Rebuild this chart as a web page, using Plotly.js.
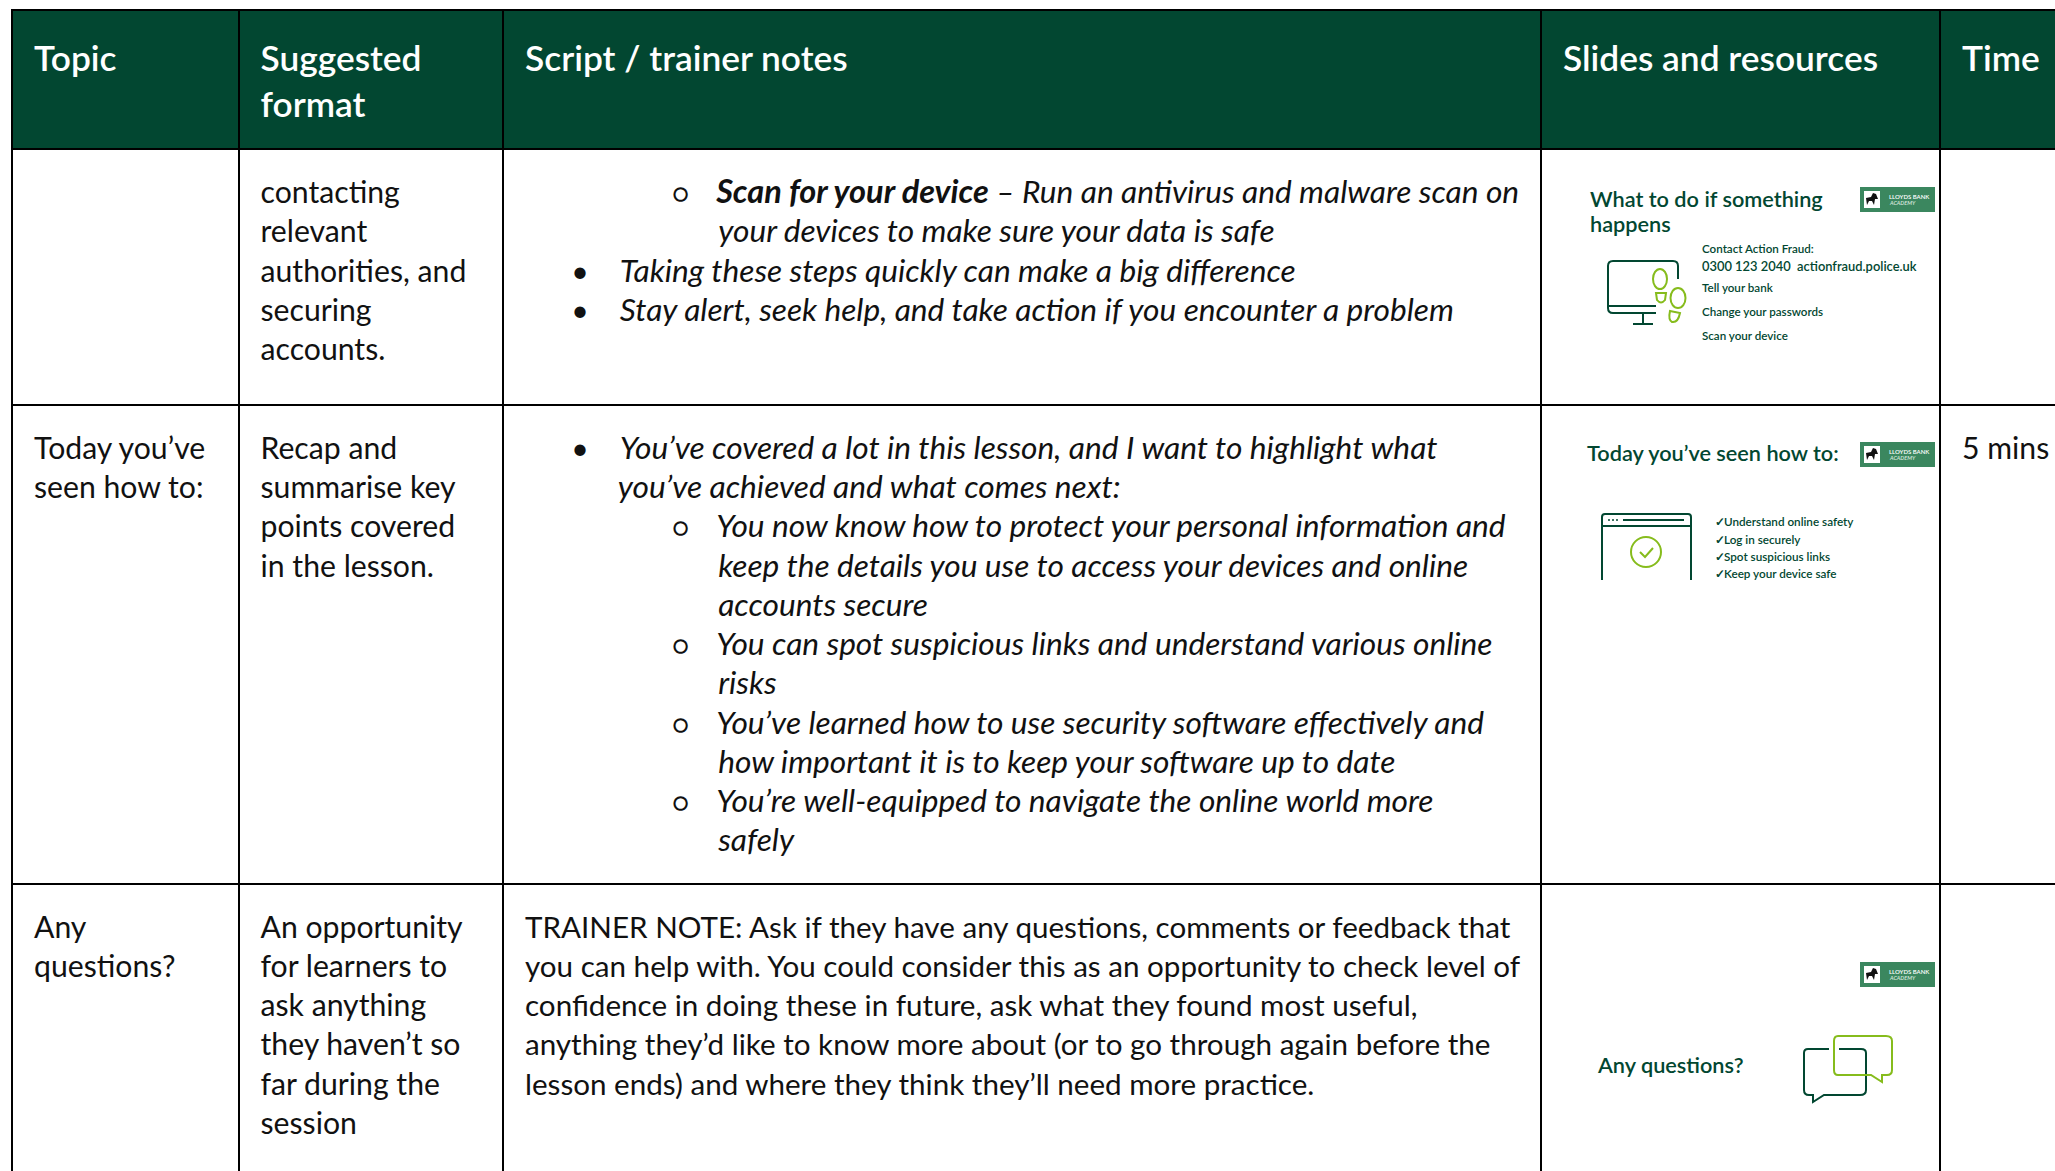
<!DOCTYPE html>
<html><head><meta charset="utf-8">
<script src="https://cdn.plot.ly/plotly-3.0.1.min.js"></script>
<style>
html,body{margin:0;padding:0;background:#fff;overflow:hidden;width:2055px;height:1171px}
#chart{width:2200px;height:1300px}
text.cell-text{transform:translate(14px,46px)}
</style></head><body><div id="chart"></div>
<script>
const NB='\u00A0';
const headers=['Topic<br>'+NB,'Suggested<br>format','Script / trainer notes<br>'+NB,'Slides and resources<br>'+NB,'Time<br>'+NB];
const topics=[NB+'<br>'+NB,'Today you’ve<br>seen how to:','Any<br>questions?'];
const formats=[
 'contacting<br>relevant<br>authorities, and<br>securing<br>accounts.',
 'Recap and<br>summarise key<br>points covered<br>in the lesson.',
 'An opportunity<br>for learners to<br>ask anything<br>they haven’t so<br>far during the<br>session'];
const notesRow1=[
 [2,'<b style="font-size:32.5px">Scan for your device</b> – Run an antivirus and malware scan on'],
 [3,'your devices to make sure your data is safe'],
 [1,'Taking these steps quickly can make a big difference'],
 [1,'Stay alert, seek help, and take action if you encounter a problem']];
const notesRow2=[
 [1,'You’ve covered a lot in this lesson, and I want to highlight what'],
 [4,'you’ve achieved and what comes next:'],
 [2,'You now know how to protect your personal information and'],
 [3,'keep the details you use to access your devices and online'],
 [3,'accounts secure'],
 [2,'You can spot suspicious links and understand various online'],
 [3,'risks'],
 [2,'You’ve learned how to use security software effectively and'],
 [3,'how important it is to keep your software up to date'],
 [2,'You’re well-equipped to navigate the online world more'],
 [3,'safely']];
const notesRow3=['TRAINER NOTE: Ask if they have any questions, comments or feedback that','you can help with. You could consider this as an opportunity to check level of','confidence in doing these in future, ask what they found most useful,','anything they’d like to know more about (or to go through again before the','lesson ends) and where they think they’ll need more practice.'];
const times=[NB+'<br>'+NB,'5 mins<br>'+NB,NB+'<br>'+NB];
const columnWidths=[226.5,264.5,1038,399,205];

const FONT='Lato,"Liberation Sans",sans-serif';
const GREEN='#024731', LIME='#86bc1c', LOGO='#3b875f', W=2200, H=1300;
const pad=n=>NB.repeat(n);
const ital=t=>'<span style="font-size:31.65px"><i>'+t+'</i></span>';
const fmtLine=([lvl,t])=>{
 if(lvl===1) return pad(6)+'•'+pad(4)+ital(t);
 if(lvl===2) return pad(19)+'<span style="font-size:26px">○</span>'+pad(3)+'<span style="font-size:15px">'+NB+'</span>'+ital(t);
 if(lvl===3) return pad(25)+ital(t);
 return pad(12)+ital(t);
};
const fmt=a=>a.map(fmtLine).join('<br>');
const spacer=NB+'<br>'+NB;
const BODY=30.2;
const HEAD=35.3;
const rowSizers=[96,185.2,123];
const row3=notesRow3.map(t=>'<span style="font-size:29.6px">'+t+'</span>').join('<br>');

const shapes=[], annotations=[];
const stroke=(path,color,w)=>shapes.push({type:'path',xref:'x',yref:'y',path,line:{color,width:w},fillcolor:'rgba(0,0,0,0)',layer:'above'});
const ell=(cx,cy,rx,ry,color,w)=>shapes.push({type:'circle',xref:'x',yref:'y',x0:cx-rx,x1:cx+rx,y0:cy-ry,y1:cy+ry,line:{color,width:w},layer:'above'});
const label=(x,y,text,size,color,extra)=>annotations.push(Object.assign({xref:'x',yref:'y',x,y,text,showarrow:false,xanchor:'left',yanchor:'middle',align:'left',borderpad:0,borderwidth:0,font:{family:FONT,size,color:color||GREEN,weight:600}},extra||{}));
function logo(top){
 shapes.push({type:'rect',xref:'x',yref:'y',x0:1860,x1:1935,y0:top,y1:top+25,fillcolor:LOGO,line:{width:0}});
 shapes.push({type:'rect',xref:'x',yref:'y',x0:1864,x1:1880,y0:top+4,y1:top+21,fillcolor:'#fff',line:{width:0}});
 shapes.push({type:'path',xref:'x',yref:'y',path:`M1866 ${top+11} L1871 ${top+10} L1873 ${top+6} L1876 ${top+7} L1878 ${top+12} L1875 ${top+12} L1874 ${top+18} L1872 ${top+14} L1869 ${top+14} L1867 ${top+18} Z`,fillcolor:'#111',line:{width:0}});
 label(1889,top+9,'LLOYDS BANK',6,'#fff');
 label(1889,top+16,'<i>ACADEMY</i>',5.5,'#d8e8de');
}
// Slide 1
logo(187);
label(1590,199,'What to do if something',21.7);
label(1590,224,'happens',21.7);
label(1702,248,'Contact Action Fraud:',11.6);
label(1702,266,'0300 123 2040'+NB+NB+'actionfraud.police.uk',12.9);
label(1702,287,'Tell your bank',11.6);
label(1702,311,'Change your passwords',11.6);
label(1702,335,'Scan your device',11.6);
stroke('M1678 279 L1678 266 Q1678 261 1673 261 L1613 261 Q1608 261 1608 266 L1608 308 Q1608 313 1613 313 L1656 313',GREEN,2);
stroke('M1608 306 L1656 306',GREEN,2);
stroke('M1643 313 L1643 324 M1633 324 L1653 324',GREEN,2);
ell(1660,279,7,10,LIME,2);
stroke('M1656 293 L1666 293 L1665 300 Q1661 305 1657 300 Z',LIME,2);
ell(1678,298,7.5,10,LIME,2);
stroke('M1670 311 L1680 313 Q1678 323 1672 322 Q1668 320 1670 311 Z',LIME,2);
// Slide 2
logo(442);
label(1587,453,'Today you’ve seen how to:',21.7);
stroke('M1602 580 L1602 517 Q1602 514 1605 514 L1688 514 Q1691 514 1691 517 L1691 580',GREEN,2);
stroke('M1602 526 L1691 526',GREEN,2);
stroke('M1623 520 L1684 520',GREEN,2);
stroke('M1608 520 L1610 520 M1612 520 L1614 520 M1616 520 L1618 520',GREEN,1.5);
ell(1646,552,15,15,LIME,2);
stroke('M1640 552 L1645 557 L1653 548',LIME,2);
const checks=['Understand online safety','Log in securely','Spot suspicious links','Keep your device safe'];
const checkY=[521,539,556,573];
checks.forEach((c,i)=>{label(1715,checkY[i],'✓',12);label(1724,checkY[i],c,11.7);});
// Slide 3
logo(962);
label(1597,1065,'Any questions?',21.7);
stroke('M1829 1049 L1808 1049 Q1804 1049 1804 1053 L1804 1090 Q1804 1095 1809 1095 L1813 1095 L1813 1102 L1824 1095 L1860 1095 Q1866 1095 1866 1090 L1866 1053 Q1866 1049 1861 1049 L1839 1049',GREEN,2);
stroke('M1838 1036 L1886 1036 Q1892 1036 1892 1041 L1892 1070 Q1892 1075 1887 1075 L1882 1075 L1882 1082 L1871 1075 L1838 1075 Q1834 1075 1834 1070 L1834 1041 Q1834 1036 1838 1036 Z',LIME,2);

const tbl={type:'table',
 domain:{x:[12/W,2145/W],y:[0,1-10/H]},
 columnwidth:columnWidths,
 columnorder:[0,1,2,3,4],
 header:{values:headers.map(h=>[h]),align:'left',height:139,
  fill:{color:GREEN},line:{color:'#000',width:2},
  font:{family:FONT,size:HEAD,color:'#fff',weight:600}},
 cells:{values:[topics,formats,[fmt(notesRow1),fmt(notesRow2),row3],rowSizers.map(()=>spacer),times],
  align:'left',height:30,
  fill:{color:'#fff'},line:{color:'#000',width:2},
  font:{family:FONT,size:[BODY,BODY,BODY,rowSizers,BODY],color:'#111'}}};
const anchor={type:'scatter',x:[],y:[],xaxis:'x',yaxis:'y',hoverinfo:'skip',showlegend:false};
Plotly.newPlot('chart',[tbl,anchor],{
 width:W,height:H,autosize:false,showlegend:false,
 margin:{l:0,r:0,t:0,b:0,pad:0},paper_bgcolor:'#fff',plot_bgcolor:'rgba(0,0,0,0)',
 xaxis:{range:[0,W],domain:[0,1],visible:false,fixedrange:true},
 yaxis:{range:[H,0],domain:[0,1],visible:false,fixedrange:true},
 shapes,annotations},{staticPlot:true,displayModeBar:false}).then(()=>{
  const nudge=()=>document.querySelectorAll('text.cell-text').forEach(t=>{
    if(t.style.fontSize===HEAD+'px'||parseFloat(getComputedStyle(t).fontSize)===HEAD)
      t.style.transform='translate(14px,64px)';
  });
  nudge(); requestAnimationFrame(nudge); setTimeout(nudge,100);
 });
</script></body></html>
